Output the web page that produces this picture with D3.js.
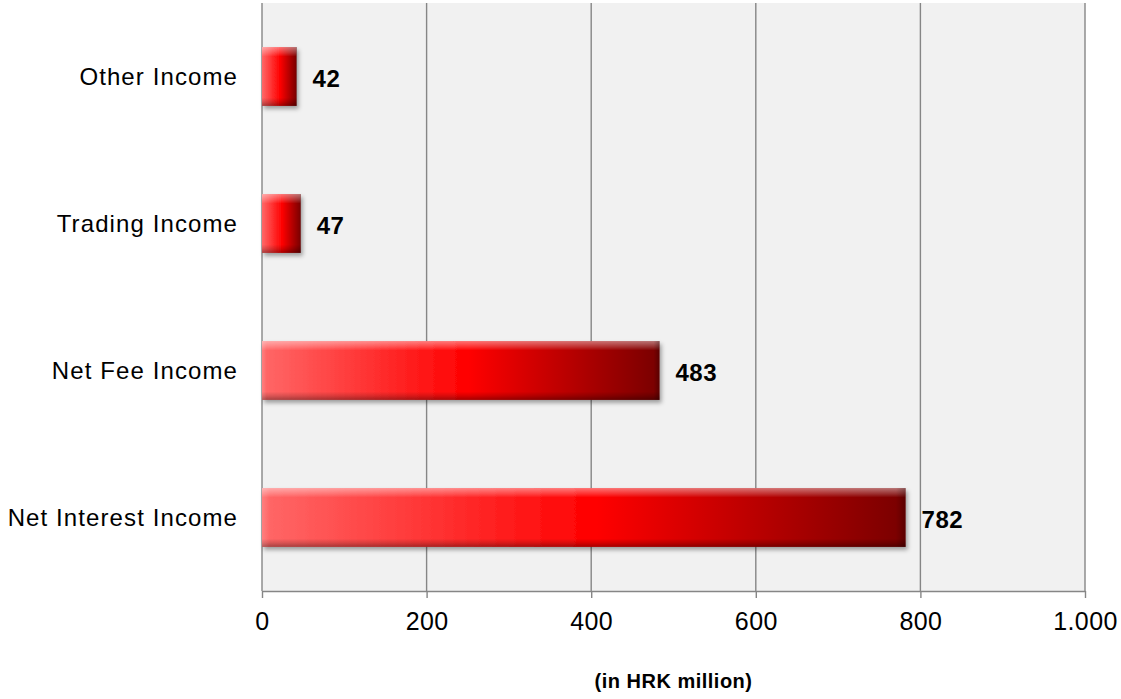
<!DOCTYPE html>
<html>
<head>
<meta charset="utf-8">
<script src="https://cdn.jsdelivr.net/npm/d3@7"></script>
<style>
  html, body { margin: 0; padding: 0; background: #ffffff; }
  svg { display: block; }
  text { font-family: "Liberation Sans", Arial, sans-serif; fill: #000; }
</style>
</head>
<body>
<svg id="chart" width="1121" height="699"></svg>
<script>
// ---- data ----
const categories = ["Other Income", "Trading Income", "Net Fee Income", "Net Interest Income"];
const values = [42, 47, 483, 782];
const tickValues = [0, 200, 400, 600, 800, 1000];
const tickLabels = ["0", "200", "400", "600", "800", "1.000"];
const axisTitle = "(in HRK million)";

// ---- layout ----
const W = 1121, H = 699;
const margin = { left: 262, right: 36, top: 3, bottom: 108 };
const plotW = W - margin.left - margin.right;
const plotH = H - margin.top - margin.bottom;

const svg = d3.select("#chart");
const defs = svg.append("defs");

// horizontal colour gradient of the bars
const gH = defs.append("linearGradient").attr("id", "barH")
  .attr("x1", 0).attr("y1", 0).attr("x2", 1).attr("y2", 0);
[[0, "#ff6868"], [0.52, "#ff0000"], [1, "#780000"]]
  .forEach(([o, c]) => gH.append("stop").attr("offset", o).attr("stop-color", c));

// vertical bevel overlay
const gV = defs.append("linearGradient").attr("id", "barV")
  .attr("x1", 0).attr("y1", 0).attr("x2", 0).attr("y2", 1);
[[0, "#ffffff", 0.45], [0.1, "#ffffff", 0.18], [0.16, "#ffffff", 0], [0.86, "#000000", 0], [0.93, "#000000", 0.15], [1, "#000000", 0.35]]
  .forEach(([o, c, a]) => gV.append("stop").attr("offset", o).attr("stop-color", c).attr("stop-opacity", a));

// end-cap bevel overlay (horizontal)
const gE = defs.append("linearGradient").attr("id", "barE")
  .attr("x1", 0).attr("y1", 0).attr("x2", 1).attr("y2", 0);
[[0, "#ffffff", 0.15], [0.012, "#ffffff", 0], [0.985, "#000000", 0], [1, "#000000", 0.25]]
  .forEach(([o, c, a]) => gE.append("stop").attr("offset", o).attr("stop-color", c).attr("stop-opacity", a));

const shadow = defs.append("filter").attr("id", "shadow")
  .attr("x", "-10%").attr("y", "-20%").attr("width", "130%").attr("height", "150%");
shadow.append("feDropShadow").attr("dx", 2).attr("dy", 3).attr("stdDeviation", 2)
  .attr("flood-color", "#000").attr("flood-opacity", 0.35);

const g = svg.append("g").attr("transform", `translate(${margin.left},${margin.top})`);

const x = d3.scaleLinear().domain([0, 1000]).range([0, plotW]);
const y = d3.scaleBand().domain(categories).range([0, plotH]).paddingInner(0.6).paddingOuter(0.3);

// plot background
g.append("rect").attr("x", 0).attr("y", 0).attr("width", plotW).attr("height", plotH)
  .attr("fill", "#f1f1f1");

// vertical gridlines
g.append("g").selectAll("line").data(tickValues).join("line")
  .attr("x1", d => x(d)).attr("x2", d => x(d))
  .attr("y1", 0).attr("y2", plotH)
  .attr("stroke", "#868686").attr("stroke-width", 1.4);

// bottom axis
const xAxis = d3.axisBottom(x).tickValues(tickValues)
  .tickFormat((d, i) => tickLabels[i]).tickSize(7).tickSizeOuter(0).tickPadding(14);
const ax = g.append("g").attr("transform", `translate(0,${plotH})`).call(xAxis);
ax.select(".domain").attr("stroke", "#868686").attr("stroke-width", 1.6);
ax.selectAll(".tick line").attr("stroke", "#868686").attr("stroke-width", 1.4);
ax.selectAll(".tick text")
  .style("font-family", '"Liberation Sans", Arial, sans-serif')
  .style("font-size", "25px").style("letter-spacing", "0.4px").attr("fill", "#000");

// category labels
g.append("g").selectAll("text").data(categories).join("text")
  .attr("x", -24).attr("y", d => y(d) + y.bandwidth() / 2).attr("dy", "0.35em")
  .attr("text-anchor", "end")
  .style("font-size", "24px").style("letter-spacing", "1.1px")
  .text(d => d);

// bars
const bars = g.append("g").selectAll("g").data(categories).join("g");
bars.append("rect")
  .attr("x", 0).attr("y", d => y(d))
  .attr("width", (d, i) => x(values[i])).attr("height", y.bandwidth())
  .attr("fill", "url(#barH)").attr("filter", "url(#shadow)");
bars.append("rect")
  .attr("x", 0).attr("y", d => y(d))
  .attr("width", (d, i) => x(values[i])).attr("height", y.bandwidth())
  .attr("fill", "url(#barV)");
bars.append("rect")
  .attr("x", 0).attr("y", d => y(d))
  .attr("width", (d, i) => x(values[i])).attr("height", y.bandwidth())
  .attr("fill", "url(#barE)");

// value labels
g.append("g").selectAll("text").data(categories).join("text")
  .attr("x", (d, i) => x(values[i]) + 16)
  .attr("y", d => y(d) + y.bandwidth() / 2).attr("dy", "0.42em")
  .style("font-size", "24px").style("font-weight", "bold").style("letter-spacing", "0.5px")
  .text((d, i) => values[i]);

// axis title
svg.append("text")
  .attr("x", margin.left + plotW / 2).attr("y", 688)
  .attr("text-anchor", "middle")
  .style("font-size", "20px").style("font-weight", "bold").style("letter-spacing", "0.5px")
  .text(axisTitle);
</script>
</body>
</html>
